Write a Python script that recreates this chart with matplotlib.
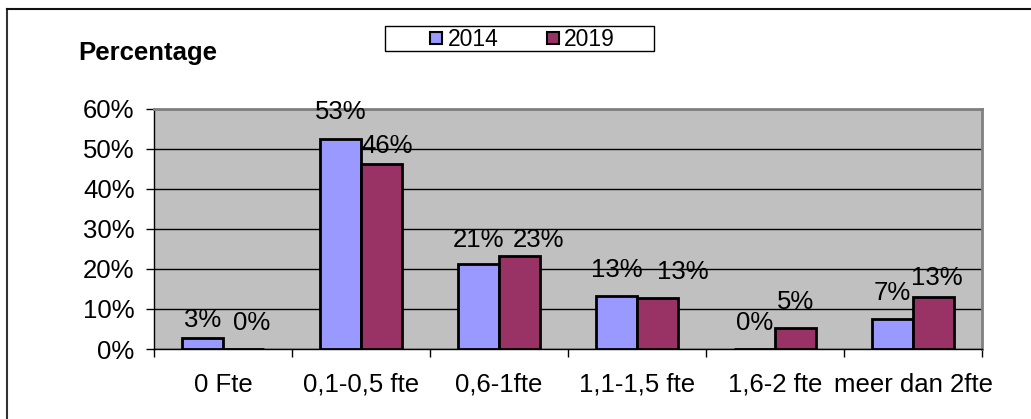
import matplotlib
matplotlib.use("Agg")
import matplotlib.pyplot as plt
import numpy as np
from matplotlib.lines import Line2D
from matplotlib.patches import Rectangle

categories = ["0 Fte", "0,1-0,5 fte", "0,6-1fte", "1,1-1,5 fte", "1,6-2 fte", "meer dan 2fte"]
series_names = ["2014", "2019"]
values_2014 = [2.8, 52.5, 21.2, 13.2, 0.0, 7.4]
values_2019 = [0.0, 46.2, 23.2, 12.8, 5.2, 12.9]
labels_2014 = ["3%", "53%", "21%", "13%", "0%", "7%"]
labels_2019 = ["0%", "46%", "23%", "13%", "5%", "13%"]
yticks = [0, 10, 20, 30, 40, 50, 60]
ytick_labels = ["0%", "10%", "20%", "30%", "40%", "50%", "60%"]

# label offsets in pixels (style only): vertical above bar top, horizontal shift
voff_2014 = [18, 27, 24, 26, 26, 26]
voff_2019 = [26, 18, 16, 26, 26, 19]
hoff_2019 = [8, 6, 19, 25, 0, 3]

c2014 = "#9999FF"
c2019 = "#993366"

plt.rcParams['font.family'] = ['Liberation Sans', 'DejaVu Sans']
FS = 18.5
PX = 0.72  # points per pixel at dpi 100

W, H = 1031, 419
fig = plt.figure(figsize=(W/100, H/100), dpi=100)
ax = fig.add_axes([154/W, 1-349/H, (982-154)/W, (349-109)/H])
ax.set_facecolor("#C0C0C0")

x = np.arange(len(categories))
w = 0.297
ax.bar(x - w/2, values_2014, w, color=c2014, edgecolor="black", linewidth=2, zorder=3)
ax.bar(x + w/2, values_2019, w, color=c2019, edgecolor="black", linewidth=2, zorder=3)

for i in range(len(categories)):
    ax.annotate(labels_2014[i], (x[i] - w/2, values_2014[i]), xytext=(0, voff_2014[i]*PX),
                textcoords="offset points", ha="center", va="center", fontsize=FS, zorder=5,
                annotation_clip=False)
    ax.annotate(labels_2019[i], (x[i] + w/2, values_2019[i]),
                xytext=(hoff_2019[i]*PX, voff_2019[i]*PX),
                textcoords="offset points", ha="center", va="center", fontsize=FS, zorder=5,
                annotation_clip=False)

ax.set_xlim(-0.5, len(categories) - 0.5)
ax.set_ylim(0, 60)
ax.set_yticks(yticks)
ax.set_yticklabels(ytick_labels, fontsize=FS)
ax.yaxis.grid(True, color="black", linewidth=1, zorder=1)
ax.set_axisbelow(True)

ax.set_xticks(x)
ax.set_xticklabels(categories, fontsize=FS)
ax.tick_params(axis="x", length=0, pad=17)
ax.set_xticks(np.arange(-0.5, len(categories), 1.0), minor=True)
ax.tick_params(axis="x", which="minor", length=6, width=1, color="black", direction="out")
ax.tick_params(axis="y", length=6, width=1, color="black", direction="out", pad=8)

for s in ["top", "right"]:
    ax.spines[s].set_color("#808080")
    ax.spines[s].set_linewidth(2)
for s in ["left", "bottom"]:
    ax.spines[s].set_color("black")
    ax.spines[s].set_linewidth(1)

fig.text(78/W, 1-53/H, "Percentage", fontsize=FS, fontweight="bold", ha="left", va="center")

# legend drawn as figure artists
def fx(px):
    return px / W

def fy(py):
    return 1 - py / H

fig.add_artist(Rectangle((fx(385), fy(51)), fx(654) - fx(385), fy(26) - fy(51),
                         transform=fig.transFigure, facecolor="white", edgecolor="black",
                         linewidth=1))
leg_sq_x = [430, 547]
leg_txt_x = [448, 564]
colors = [c2014, c2019]
for name, sx, tx, col in zip(series_names, leg_sq_x, leg_txt_x, colors):
    fig.add_artist(Rectangle((fx(sx), fy(44.5)), fx(12), 12/H, transform=fig.transFigure,
                             facecolor=col, edgecolor="black", linewidth=1.5))
    fig.text(fx(tx), fy(39), name, fontsize=16.5, ha="left", va="center")

# outer chart frame (left and top edges)
fig.add_artist(Line2D([fx(7), fx(7)], [0, fy(9)], transform=fig.transFigure, color="#333333", linewidth=1.5))
fig.add_artist(Line2D([fx(7), 1], [fy(9), fy(9)], transform=fig.transFigure, color="#111111", linewidth=1.5))

fig.savefig("out.png", dpi=100)
